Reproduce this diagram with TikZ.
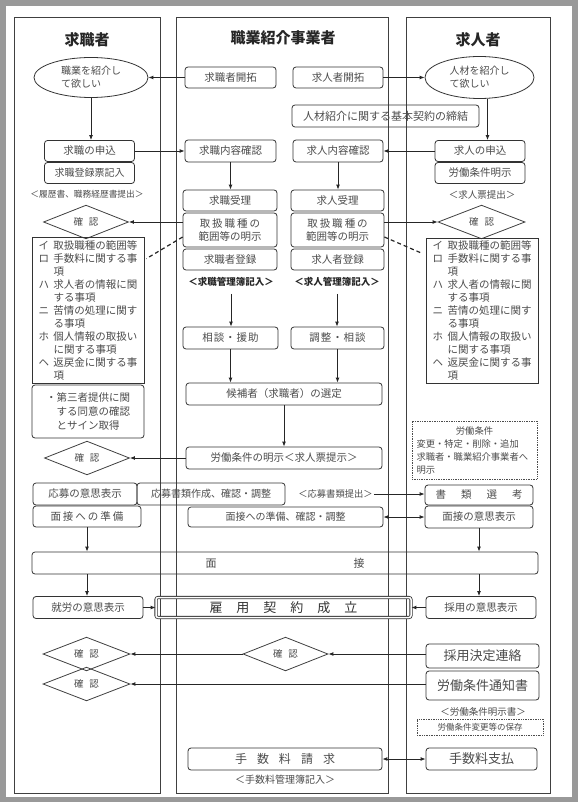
\documentclass[tikz,border=0pt]{standalone}
\usepackage{fontspec}
\setmainfont{Noto Sans CJK JP}
\usetikzlibrary{shapes.geometric,arrows.meta,calc}
\newcommand{\itm}[2]{\makebox[15pt][l]{#1}#2}
\newcommand{\rangelist}{\itm{イ}{取扱職種の範囲等}\\\itm{ロ}{手数料に関する事}\\\itm{}{項}\\\itm{ハ}{求人者の情報に関}\\\itm{}{する事項}\\\itm{ニ}{苦情の処理に関す}\\\itm{}{る事項}\\\itm{ホ}{個人情報の取扱い}\\\itm{}{に関する事項}\\\itm{ヘ}{返戻金に関する事}\\\itm{}{項}}
\newcommand{\gp}[1]{\hspace{#1pt}}

\begin{document}
\begin{tikzpicture}[x=1pt,y=-1pt]
  \tikzset{flowbox/.style={draw=black!80,line width=0.8pt,rounded corners=3pt,inner sep=0pt,text=black!70,font=\fontsize{10.5}{13}\selectfont,align=center}}
  \tikzset{listbox/.style={draw=black!80,line width=0.8pt,inner sep=0pt,text=black!70,font=\fontsize{10.5}{13}\selectfont,align=left}}
  \tikzset{notebox/.style={draw=black!70,line width=0.7pt,densely dotted,inner sep=0pt,text=black!70,align=left}}
  \tikzset{checkdiamond/.style={diamond,draw=black!75,line width=0.8pt,inner sep=0pt,text=black!70,font=\fontsize{9.5}{11}\selectfont}}
  \tikzset{wishellipse/.style={ellipse,draw=black!80,line width=0.8pt,inner sep=0pt,text=black!70,font=\fontsize{10}{13}\selectfont,align=left}}
  \tikzset{plaintext/.style={inner sep=1pt,text=black!70}}
  \tikzset{headtext/.style={inner sep=1pt,text=black!85,font=\fontsize{15}{18}\selectfont\bfseries}}
  \tikzset{flowarrow/.style={draw=black!85,line width=0.9pt,-{Latex[length=5pt,width=4pt]}}}
  \tikzset{botharrow/.style={draw=black!85,line width=0.9pt,{Latex[length=5pt,width=4pt]}-{Latex[length=5pt,width=4pt]}}}
  \tikzset{hintline/.style={draw=black!85,line width=1.2pt,dash pattern=on 4pt off 3pt}}
  \tikzset{colframe/.style={draw=black!75,line width=0.8pt}}
  \useasboundingbox (0,0) rectangle (578,802);
  \fill[black!40] (0,0) rectangle (578,802);
  \fill[white] (6,6) rectangle (572,797);
  \draw[colframe] (14,17) rectangle (160,793);
  \draw[colframe] (176,17) rectangle (388,793);
  \draw[colframe] (406,17) rectangle (550,793);
  \node[headtext] (lhead) at (87,40) {求職者};
  \node[headtext] (mhead) at (283,38) {職業紹介事業者};
  \node[headtext] (rhead) at (478,40) {求人者};
  \node[wishellipse,minimum width=114pt,minimum height=40pt] (lwant) at (91,77.5) {職業を紹介し\\て欲しい};
  \node[flowbox,minimum width=90pt,minimum height=21pt] (lapply) at (89.5,151) {求職の申込};
  \node[flowbox,minimum width=90pt,minimum height=21pt,font=\fontsize{10}{12}\selectfont] (lregist) at (89.5,173) {求職登録票記入};
  \node[plaintext,font=\fontsize{8.7}{10}\selectfont] (ldocs) at (87,194) {＜履歴書、職務経歴書提出＞};
  \node[checkdiamond,minimum width=85pt,minimum height=29pt] (lconfa) at (86,222) {確\gp{6}認};
  \node[listbox,minimum width=112pt,minimum height=146pt] (llist) at (88,310) {\rangelist};
  \node[flowbox,minimum width=112pt,minimum height=53pt,align=left,font=\fontsize{10.5}{14}\selectfont] (lthird) at (88,411.5) {・第三者提供に関\\\hspace*{1em}する同意の確認\\\hspace*{1em}とサイン取得};
  \node[checkdiamond,minimum width=85pt,minimum height=29pt] (lconfb) at (87,458) {確\gp{6}認};
  \node[flowbox,minimum width=104pt,minimum height=22pt] (lentry) at (85,494) {応募の意思表示};
  \node[flowbox,minimum width=108pt,minimum height=21pt] (lprep) at (87,516.5) {面\gp{2}接\gp{2}へ\gp{2}の\gp{2}準\gp{2}備};
  \node[flowbox,minimum width=506pt,minimum height=22pt,font=\fontsize{11}{13}\selectfont] (interview) at (285,563) {面\gp{137}接};
  \node[flowbox,minimum width=110pt,minimum height=22pt] (lwork) at (88,607.5) {就労の意思表示};
  \node[flowbox,minimum width=255pt,minimum height=20pt,double,double distance=1.5pt,rounded corners=2pt,text=black!80,font=\fontsize{13}{15}\selectfont] (contract) at (283.5,607.5) {雇\gp{14}用\gp{14}契\gp{14}約\gp{14}成\gp{14}立};
  \node[checkdiamond,minimum width=87pt,minimum height=31pt] (lconfc) at (86.5,654) {確\gp{6}認};
  \node[checkdiamond,minimum width=87pt,minimum height=30pt] (lconfd) at (86.5,684) {確\gp{6}認};
  \node[flowbox,minimum width=91pt,minimum height=21pt] (mseek) at (230.5,77.5) {求職者開拓};
  \node[flowbox,minimum width=90pt,minimum height=21pt] (moffer) at (338,77.5) {求人者開拓};
  \node[flowbox,minimum width=187pt,minimum height=22pt,font=\fontsize{11}{13}\selectfont] (mbasic) at (385.5,116) {人材紹介に関する基本契約の締結};
  \node[flowbox,minimum width=91pt,minimum height=22pt] (mcheckj) at (230.5,151) {求職内容確認};
  \node[flowbox,minimum width=90pt,minimum height=22pt] (mcheckc) at (338,151) {求人内容確認};
  \node[flowbox,minimum width=94pt,minimum height=21pt] (mrecj) at (230,200.5) {求職受理};
  \node[flowbox,minimum width=94pt,minimum height=34pt] (mscopej) at (230,230) {取\gp{2}扱\gp{2}職\gp{2}種\gp{2}の\\範囲等の明示};
  \node[flowbox,minimum width=94pt,minimum height=21pt] (mregj) at (230,259.5) {求職者登録};
  \node[flowbox,minimum width=93pt,minimum height=21pt] (mrecc) at (337.5,200.5) {求人受理};
  \node[flowbox,minimum width=93pt,minimum height=34pt] (mscopec) at (337.5,230) {取\gp{2}扱\gp{2}職\gp{2}種\gp{2}の\\範囲等の明示};
  \node[flowbox,minimum width=93pt,minimum height=21pt] (mregc) at (337.5,259.5) {求人者登録};
  \node[plaintext,text=black!85,font=\fontsize{9.5}{11}\selectfont\bfseries] (mbookj) at (231,282) {＜求職管理簿記入＞};
  \node[plaintext,text=black!85,font=\fontsize{9.5}{11}\selectfont\bfseries] (mbookc) at (337,282) {＜求人管理簿記入＞};
  \node[flowbox,minimum width=95pt,minimum height=22pt] (mconsj) at (230.5,338) {相\gp{1}談\gp{1}・\gp{1}援\gp{1}助};
  \node[flowbox,minimum width=93pt,minimum height=22pt] (mconsc) at (337.5,338) {調\gp{1}整\gp{1}・\gp{1}相\gp{1}談};
  \node[flowbox,minimum width=196pt,minimum height=22pt] (mselect) at (284,394) {候補者（求職者）の選定};
  \node[flowbox,minimum width=196pt,minimum height=22pt] (mterms) at (284,458) {労働条件の明示＜求人票提示＞};
  \node[flowbox,minimum width=148pt,minimum height=22pt,font=\fontsize{10}{12}\selectfont] (mdocs) at (211,494) {応募書類作成、確認・調整};
  \node[plaintext,font=\fontsize{9.3}{11}\selectfont] (msubmit) at (335.5,494) {＜応募書類提出＞};
  \node[flowbox,minimum width=195pt,minimum height=20pt,font=\fontsize{10}{12}\selectfont] (mprep) at (285.5,517) {面接への準備、確認・調整};
  \node[checkdiamond,minimum width=85pt,minimum height=29pt] (mconf) at (285.5,654) {確\gp{6}認};
  \node[flowbox,minimum width=194pt,minimum height=22pt,font=\fontsize{12}{14}\selectfont] (mfee) at (285,759) {手\gp{10}数\gp{10}料\gp{10}請\gp{10}求};
  \node[plaintext,font=\fontsize{10}{12}\selectfont] (mfeebook) at (285,780) {＜手数料管理簿記入＞};
  \node[wishellipse,minimum width=109pt,minimum height=42pt] (rwant) at (479.5,77.5) {人材を紹介し\\て欲しい};
  \node[flowbox,minimum width=90pt,minimum height=21pt] (rapply) at (480,151) {求人の申込};
  \node[flowbox,minimum width=90pt,minimum height=21pt] (rterms) at (480,173) {労働条件明示};
  \node[plaintext,font=\fontsize{9.5}{11}\selectfont] (rdocs) at (482,195) {＜求人票提出＞};
  \node[checkdiamond,minimum width=87pt,minimum height=30pt] (rconfa) at (481.5,222) {確\gp{6}認};
  \node[listbox,minimum width=112pt,minimum height=145pt] (rlist) at (482,310.5) {\rangelist};
  \node[notebox,minimum width=125pt,minimum height=58pt,text width=116pt,font=\fontsize{9.3}{13}\selectfont] (rchange) at (474.5,450) {\makebox[116pt][c]{労働条件}\\変更・特定・削除・追加\\求職者・職業紹介事業者へ\\明示};
  \node[flowbox,minimum width=108pt,minimum height=20pt] (rscreen) at (479,495) {書\gp{15}類\gp{15}選\gp{15}考};
  \node[flowbox,minimum width=108pt,minimum height=22pt] (rintv) at (479,517) {面接の意思表示};
  \node[flowbox,minimum width=110pt,minimum height=22pt] (radopt) at (481,607.5) {採用の意思表示};
  \node[flowbox,minimum width=113pt,minimum height=24pt,font=\fontsize{13}{15}\selectfont] (rnotice) at (482.5,656) {採用決定連絡};
  \node[flowbox,minimum width=113pt,minimum height=29pt,font=\fontsize{13}{15}\selectfont] (rletter) at (482.5,685.5) {労働条件通知書};
  \node[plaintext,font=\fontsize{9.5}{11}\selectfont] (rdocsb) at (483,712) {＜労働条件明示書＞};
  \node[notebox,minimum width=126pt,minimum height=16pt,font=\fontsize{8.5}{10}\selectfont] (rkeep) at (480,727) {労働条件変更等の保存};
  \node[flowbox,minimum width=111pt,minimum height=22pt,font=\fontsize{13}{15}\selectfont] (rpay) at (481.5,759) {手数料支払};
  \draw[flowarrow] (mseek) -- (lwant);
  \draw[flowarrow] (moffer) -- (rwant);
  \draw[flowarrow] (lwant.south) -- (lwant.south |- lapply.north);
  \draw[flowarrow] ([xshift=8pt]rwant.south) -- ([xshift=8pt]rwant.south |- rapply.north);
  \draw[flowarrow] (lapply) -- (mcheckj);
  \draw[flowarrow] (rapply) -- (mcheckc);
  \draw[flowarrow] (mcheckj.south) -- (mcheckj.south |- mrecj.north);
  \draw[flowarrow] (mcheckc.south) -- (mcheckc.south |- mrecc.north);
  \draw[flowarrow] (mscopej.west |- lconfa.east) -- (lconfa.east);
  \draw[flowarrow] (mscopec.east |- rconfa.west) -- (rconfa.west);
  \draw[hintline] ($(mscopej.west)+(0,7)$) -- ($(llist.north east)+(2,22)$);
  \draw[hintline] ($(mscopec.east)+(0,7)$) -- ($(rlist.north west)+(-3,16)$);
  \draw[flowarrow,shorten <=6pt] (mbookj.south) -- (mbookj.south |- mconsj.north);
  \draw[flowarrow,shorten <=6pt] (mbookc.south) -- (mbookc.south |- mconsc.north);
  \draw[flowarrow] (mconsj.south) -- (mconsj.south |- mselect.north);
  \draw[flowarrow] (mconsc.south) -- (mconsc.south |- mselect.north);
  \draw[flowarrow] (mselect) -- (mterms);
  \draw[flowarrow] (mterms) -- (lconfb);
  \draw[flowarrow] (msubmit.east) -- (rscreen.west |- msubmit.east);
  \draw[botharrow] (mprep) -- (rintv);
  \draw[flowarrow] (lprep.south) -- (lprep.south |- interview.north);
  \draw[flowarrow] (lprep.south |- interview.south) -- (lprep.south |- lwork.north);
  \draw[flowarrow] (rintv.south) -- (rintv.south |- interview.north);
  \draw[flowarrow] (rintv.south |- interview.south) -- (rintv.south |- radopt.north);
  \draw[flowarrow] (lwork) -- (contract);
  \draw[flowarrow] (radopt) -- (contract);
  \draw[flowarrow] (rnotice.west |- mconf.east) -- (mconf.east);
  \draw[flowarrow] (mconf) -- (lconfc);
  \draw[flowarrow] (rletter.west |- lconfd.east) -- (lconfd.east);
  \draw[botharrow] (mfee) -- (rpay);
\end{tikzpicture}
\end{document}
